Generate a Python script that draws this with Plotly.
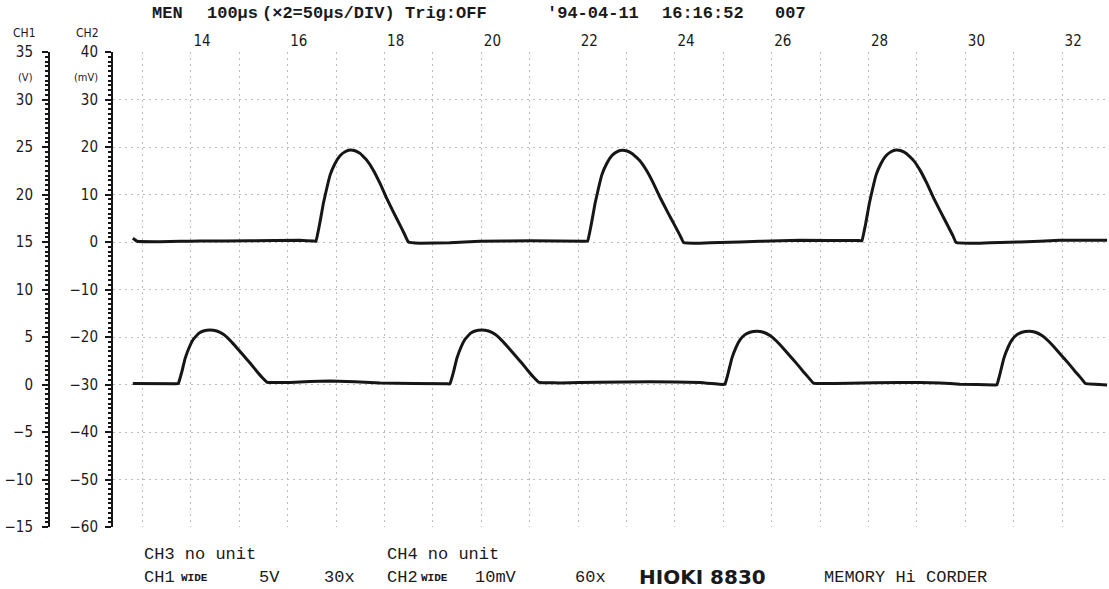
import plotly.graph_objects as go

# ---------------- data ----------------
x_ticks = [14, 16, 18, 20, 22, 24, 26, 28, 30, 32]
ch1_ticks = [-15, -10, -5, 0, 5, 10, 15, 20, 25, 30, 35]      # V
ch2_ticks = [-60, -50, -40, -30, -20, -10, 0, 10, 20, 30, 40]  # mV

# upper trace (CH2, mV)
ch2_t = [12.57, 12.66, 13.13, 13.55, 13.96, 14.99, 16.02, 16.30,
         16.355, 16.438, 16.506, 16.576, 16.645, 16.748, 16.851, 16.955, 17.058, 17.161,
         17.264, 17.403, 17.539, 17.678, 17.816, 17.952, 18.091, 18.194, 18.262,
         18.50, 19.12, 19.74, 20.78, 21.91,
         21.969, 22.052, 22.120, 22.190, 22.259, 22.362, 22.465, 22.569, 22.672, 22.781,
         22.890, 23.038, 23.182, 23.329, 23.475, 23.620, 23.767, 23.876, 23.948,
         24.29, 24.70, 25.53, 26.36, 27.58,
         27.636, 27.719, 27.787, 27.857, 27.926, 28.029, 28.132, 28.236, 28.339, 28.445,
         28.551, 28.695, 28.835, 28.978, 29.120, 29.261, 29.404, 29.510, 29.580,
         30.07, 30.49, 31.31, 31.73, 32.70]
ch2_mv = [0.8, 0.15, 0.05, 0.15, 0.2, 0.25, 0.35, 0.2,
          0.17, 4.24, 8.11, 11.27, 14.08, 16.54, 18.15, 18.99, 19.35, 19.2,
          18.65, 17.24, 15.13, 12.33, 9.17, 6.34, 3.54, 1.43, 0.02,
          -0.25, -0.15, 0.15, 0.25, 0.15,
          0.17, 4.24, 8.11, 11.27, 14.08, 16.54, 18.15, 18.99, 19.3, 19.15,
          18.6, 17.2, 15.1, 12.3, 9.15, 6.3, 3.5, 1.4, -0.1,
          -0.25, -0.1, 0.15, 0.35, 0.3,
          0.25, 4.24, 8.11, 11.27, 14.08, 16.54, 18.15, 18.99, 19.35, 19.2,
          18.65, 17.24, 15.13, 12.33, 9.17, 6.34, 3.54, 1.43, -0.1,
          -0.25, -0.1, 0.15, 0.35, 0.35]

# lower trace (CH1, V)
ch1_t = [12.57, 13.45,
         13.510, 13.581, 13.649, 13.738, 13.820, 13.924, 14.027, 14.165, 14.304,
         14.440, 14.579, 14.717, 14.853, 14.992, 15.130, 15.233, 15.337,
         15.45, 15.82, 16.64, 17.68, 19.06,
         19.124, 19.195, 19.263, 19.352, 19.434, 19.538, 19.641, 19.779, 19.918,
         20.054, 20.193, 20.331, 20.467, 20.606, 20.744, 20.847, 20.951,
         21.10, 21.40, 22.22, 23.26, 24.29, 24.70,
         24.805, 24.876, 24.944, 25.033, 25.115, 25.219, 25.322, 25.460, 25.599,
         25.735, 25.874, 26.012, 26.148, 26.287, 26.425, 26.528, 26.632,
         26.75, 27.39, 28.42, 29.25, 29.66, 30.37,
         30.425, 30.496, 30.564, 30.653, 30.735, 30.839, 30.942, 31.080, 31.219,
         31.355, 31.494, 31.632, 31.768, 31.907, 32.045, 32.148, 32.252,
         32.45, 32.70]
ch1_v = [0.1, 0.08,
         0.09, 1.31, 2.72, 3.95, 4.76, 5.36, 5.63, 5.74, 5.63,
         5.28, 4.65, 3.88, 3.07, 2.26, 1.39, 0.78, 0.26,
         0.2, 0.22, 0.38, 0.17, 0.07,
         0.07, 1.31, 2.72, 3.95, 4.76, 5.36, 5.63, 5.74, 5.63,
         5.28, 4.65, 3.88, 3.07, 2.26, 1.39, 0.78, 0.26,
         0.18, 0.17, 0.23, 0.28, 0.22, 0.02,
         0.02, 1.3, 2.7, 3.9, 4.7, 5.25, 5.5, 5.6, 5.5,
         5.15, 4.55, 3.8, 3.0, 2.2, 1.35, 0.75, 0.15,
         0.1, 0.12, 0.22, 0.17, 0.02, -0.04,
         -0.04, 1.3, 2.7, 3.9, 4.7, 5.25, 5.5, 5.6, 5.5,
         5.15, 4.55, 3.8, 3.0, 2.2, 1.35, 0.75, 0.1,
         0.02, -0.04]

# ---------------- layout constants ----------------
W, H = 1109, 589
ML, MR, MT, MB = 0, 0, 52, 62
PLOT_L = 113          # px, left edge of plot area (CH2 axis)
CH1_AX = 49           # px, CH1 axis line
X_RANGE = [12.16, 32.74]
INK = "#161616"
GRID = "#bdbdbd"
GRID_DASH = "2px,4px"
MONO = "Liberation Mono, DejaVu Sans Mono, monospace"
NARROW = "Liberation Sans Narrow, DejaVu Sans Condensed, Liberation Sans, sans-serif"


def px_x(px):
    return px / W


def px_y(py):
    return (H - MB - py) / (H - MT - MB)


fig = go.Figure()
fig.add_trace(go.Scatter(x=ch2_t, y=ch2_mv, mode="lines", xaxis="x", yaxis="y2",
                         line=dict(color=INK, width=3, shape="spline", smoothing=0.2),
                         name="CH2", hoverinfo="skip"))
fig.add_trace(go.Scatter(x=ch1_t, y=ch1_v, mode="lines", xaxis="x", yaxis="y",
                         line=dict(color=INK, width=3, shape="spline", smoothing=0.2),
                         name="CH1", hoverinfo="skip"))
# carrier so the division-grid axis (x2) is drawn
fig.add_trace(go.Scatter(x=[None], y=[None], mode="markers", xaxis="x2", yaxis="y2",
                         marker=dict(opacity=0), hoverinfo="skip", showlegend=False))

tickfont = dict(family=NARROW, size=15, color="#1a1a1a")

minor_out = lambda d: dict(dtick=d, tick0=0, ticks="outside", ticklen=3, tickwidth=1.5,
                           tickcolor=INK, showgrid=False)
minor_in = lambda d: dict(dtick=d, tick0=0, ticks="inside", ticklen=3, tickwidth=1.5,
                          tickcolor=INK, showgrid=False)

fig.update_layout(
    width=W, height=H,
    margin=dict(l=ML, r=MR, t=MT, b=MB, pad=0),
    paper_bgcolor="white", plot_bgcolor="white",
    showlegend=False,
    xaxis=dict(domain=[PLOT_L / W, 1], range=X_RANGE, side="top", tickvals=x_ticks,
               ticks="", showgrid=False, zeroline=False, showline=False,
               tickfont=tickfont, ticklabelstandoff=2, anchor="y2"),
    xaxis2=dict(overlaying="x", range=X_RANGE, tick0=12.77, dtick=1, showgrid=True,
                griddash=GRID_DASH, gridcolor=GRID, gridwidth=1, showticklabels=False,
                ticks="", zeroline=False, showline=False, anchor="y2", side="bottom"),
    yaxis=dict(range=[-15, 35], anchor="free", position=CH1_AX / W, side="left",
               showline=True, linecolor=INK, linewidth=2, ticks="outside", ticklen=6,
               tickwidth=2, tickcolor=INK, tickvals=ch1_ticks, showgrid=False,
               zeroline=False, tickfont=tickfont, ticklabelstandoff=6,
               minor=minor_out(0.5)),
    yaxis3=dict(range=[-15, 35], overlaying="y", anchor="free", position=CH1_AX / W,
                side="left", showline=False, ticks="inside", ticklen=6, tickwidth=2,
                tickcolor=INK, tickvals=ch1_ticks, showticklabels=False,
                showgrid=False, zeroline=False, minor=minor_in(0.5)),
    yaxis2=dict(range=[-60, 40], overlaying="y", anchor="x", side="left",
                showline=True, linecolor=INK, linewidth=2, ticks="outside", ticklen=6,
                tickwidth=2, tickcolor=INK, tickvals=ch2_ticks, showgrid=True,
                griddash=GRID_DASH, gridcolor=GRID, gridwidth=1, zeroline=False,
                tickfont=tickfont, ticklabelstandoff=4, minor=minor_out(1)),
    yaxis4=dict(range=[-60, 40], overlaying="y", anchor="x", side="left",
                showline=False, ticks="inside", ticklen=6, tickwidth=2,
                tickcolor=INK, tickvals=ch2_ticks, showticklabels=False,
                showgrid=False, zeroline=False, minor=minor_in(1)),
)

annotations = []


def ann(text, px, py, size, family=MONO, anchor="left", color="#1a1a1a"):
    annotations.append(dict(text=text, x=px_x(px), y=px_y(py), xref="paper", yref="paper",
                            xanchor=anchor, yanchor="middle", showarrow=False,
                            font=dict(family=family, size=size, color=color)))


# header line
for txt, px in [("MEN", 150), ("100µs", 205), ("(×2=50µs/DIV)", 260), ("Trig:OFF", 403),
                ("'94-04-11", 545), ("16:16:52", 660), ("007", 773)]:
    ann("<b>" + txt + "</b>", px, 14, 17)

# axis headings
ann("CH1", 24, 33, 12, family=NARROW, anchor="center")
ann("CH2", 87, 33, 12, family=NARROW, anchor="center")
ann("(V)", 25, 77, 11, family=NARROW, anchor="center")
ann("(mV)", 86, 77, 11, family=NARROW, anchor="center")

# footer
ann("CH3 no unit", 142, 554, 17)
ann("CH4 no unit", 385, 554, 17)
ann("CH1", 142, 577, 17)
ann("<b>WIDE</b>", 179, 578, 11)
ann("5V", 257, 577, 17)
ann("30x", 322, 577, 17)
ann("CH2", 385, 577, 17)
ann("<b>WIDE</b>", 419, 578, 11)
ann("10mV", 473, 577, 17)
ann("60x", 573, 577, 17)
ann("<b>HIOKI 8830</b>", 637, 577, 20, family="DejaVu Sans, sans-serif")
ann("MEMORY Hi CORDER", 822, 577, 17)

fig.update_layout(annotations=annotations)

fig.write_html("out.html")
